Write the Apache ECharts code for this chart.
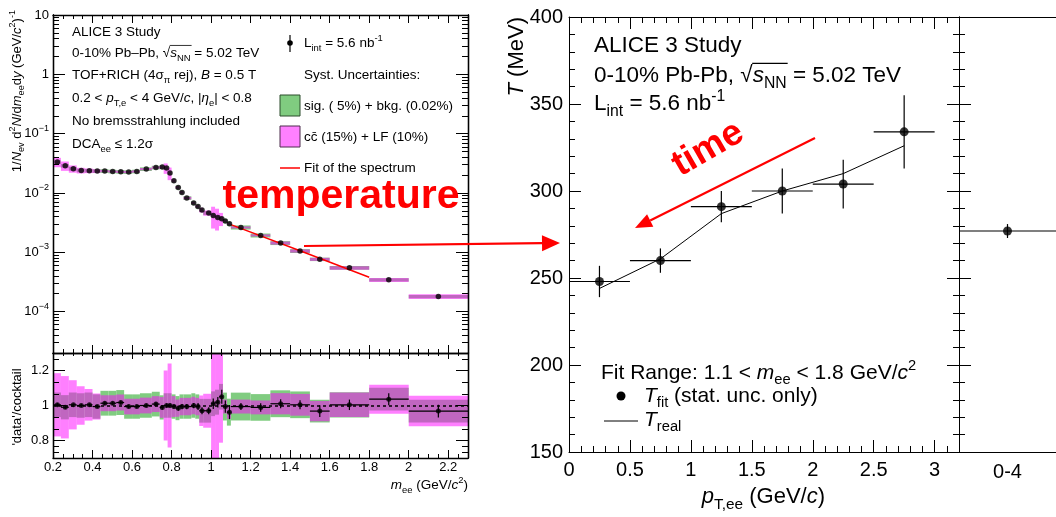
<!DOCTYPE html>
<html>
<head>
<meta charset="utf-8">
<script src="https://cdn.jsdelivr.net/npm/echarts@6/dist/echarts.min.js"></script>
<style>
  html, body { margin: 0; padding: 0; background: #fff; }
  #chart { width: 1056px; height: 517px; }
</style>
</head>
<body>
<div id="chart"></div>
<script>
const FONT = 'Liberation Sans, Arial, Helvetica, sans-serif';

// ---- left: dielectron mass spectrum + ratio ----
const massBinEdges = [0.2, 0.24, 0.28, 0.32, 0.36, 0.40, 0.44, 0.48, 0.52, 0.56, 0.60, 0.64, 0.70, 0.74, 0.76, 0.78,
  0.80, 0.82, 0.84, 0.86, 0.90, 0.92, 0.94, 0.96, 1.00, 1.02, 1.04, 1.06, 1.08, 1.10, 1.2, 1.3, 1.4, 1.5, 1.6, 1.8, 2.0, 2.3];
const massPoints = [0.222, 0.262, 0.303, 0.343, 0.384, 0.424, 0.462, 0.502, 0.543, 0.583, 0.624, 0.672, 0.721, 0.753,
  0.775, 0.792, 0.812, 0.834, 0.853, 0.877, 0.912, 0.934, 0.954, 0.988, 1.011, 1.034, 1.054, 1.072, 1.093,
  1.151, 1.251, 1.352, 1.450, 1.550, 1.700, 1.899, 2.150];
const yieldValues = [0.0331, 0.0287, 0.0255, 0.0239, 0.0237, 0.0234, 0.0234, 0.0230, 0.0227, 0.0225, 0.0230, 0.0252,
  0.0268, 0.0273, 0.0262, 0.0216, 0.0160, 0.0124, 0.0102, 0.0082, 0.00676, 0.00593, 0.00515, 0.00459, 0.00418,
  0.00387, 0.00368, 0.00337, 0.00303, 0.00262, 0.00192, 0.00143, 0.00105, 0.00076, 0.000545, 0.000342, 0.000179];
const ratioValues = [1.004, 0.990, 1.004, 1.000, 1.004, 0.994, 1.013, 1.013, 1.017, 0.994, 0.994, 1.000, 1.008, 0.989,
  1.000, 1.000, 0.994, 0.985, 0.994, 0.994, 1.000, 0.994, 0.970, 0.970, 1.010, 1.019, 1.050, 0.994, 0.962,
  0.994, 0.989, 1.010, 1.004, 0.968, 1.004, 1.036, 0.968];
const ratioStatErr = [0.01, 0.01, 0.008, 0.008, 0.008, 0.008, 0.01, 0.01, 0.01, 0.01, 0.01, 0.01, 0.01, 0.012, 0.012,
  0.012, 0.012, 0.015, 0.015, 0.015, 0.015, 0.02, 0.02, 0.02, 0.03, 0.03, 0.04, 0.035, 0.04,
  0.02, 0.024, 0.026, 0.026, 0.033, 0.03, 0.034, 0.036];
// relative syst. uncertainties: sig.+bkg. (green) and ccbar+LF (magenta)
const systSig = [0.07, 0.07, 0.07, 0.07, 0.07, 0.07, 0.07, 0.07, 0.07, 0.07, 0.07, 0.07, 0.07, 0.07, 0.07, 0.07,
  0.07, 0.07, 0.07, 0.07, 0.07, 0.07, 0.07, 0.07, 0.07, 0.07, 0.07, 0.08, 0.08,
  0.08, 0.077, 0.076, 0.076, 0.067, 0.072, 0.063, 0.067];
const systCharm = [0.18, 0.18, 0.14, 0.11, 0.09, 0.075, 0.045, 0.045, 0.045, 0.045, 0.045, 0.045, 0.045, 0.06, 0.2,
  0.24, 0.06, 0.05, 0.05, 0.05, 0.05, 0.05, 0.09, 0.1, 0.4, 0.4, 0.25, 0.04, 0.04,
  0.04, 0.04, 0.06, 0.062, 0.06, 0.07, 0.08, 0.09];
const fitMass = [1.1, 1.45, 1.8];
const fitYield = [0.00292, 0.00106, 0.000378];
const ratioTicks = [0.8, 1, 1.2];
const ratioMinorTicks = [0.7333, 0.7667, 0.8667, 0.9333, 1.0667, 1.1333, 1.2667];

// ---- right: temperature vs pair pT ----
const ptBinEdges = [0, 0.5, 1, 1.5, 2, 2.5, 3];
const ptCenters = [0.25, 0.75, 1.25, 1.75, 2.25, 2.75];
const tFit = [248, 260, 291, 300, 304, 334];
const tFitErr = [9, 7, 9, 13, 14, 21];
const tReal = [244, 261, 287, 300, 310, 326];
const intCategories = ['0-4'];
const intTFit = [277];
const intTFitErr = [4];

const logMinorTicks = [];
for (let e = -5; e <= 0; e++) {
  for (let k = 2; k <= 9; k++) {
    const v = k * Math.pow(10, e);
    if (v > 2.01e-5 && v < 10) logMinorTicks.push(v);
  }
}

function rich(fs) {
  const base = { fontFamily: FONT, fontSize: fs, color: '#000' };
  return {
    n: Object.assign({}, base, { lineHeight: fs * 1.4, verticalAlign: 'middle' }),
    i: Object.assign({}, base, { fontStyle: 'italic', lineHeight: fs * 1.4, verticalAlign: 'middle' }),
    sb: Object.assign({}, base, { fontSize: fs * 0.7, lineHeight: fs * 0.7, verticalAlign: 'bottom' }),
    sp: Object.assign({}, base, { fontSize: fs * 0.7, lineHeight: fs * 0.7, verticalAlign: 'top' })
  };
}

function txt(x, y, text, fs, opt) {
  opt = opt || {};
  return {
    type: 'text', x: x, y: y, rotation: opt.rot || 0, z: 100,
    style: {
      text: text, rich: rich(fs), fontFamily: FONT, fontSize: fs, fill: '#000',
      align: opt.align || 'left', verticalAlign: 'middle'
    }
  };
}

const measureCtx = document.createElement('canvas').getContext('2d');
function textWidth(s, fs, italic) {
  measureCtx.font = (italic ? 'italic ' : '') + fs + 'px ' + FONT;
  return measureCtx.measureText(s).width;
}
// overline of the square root over s_NN
function sqrtBar(x, y, prefix, fs) {
  const x0 = x + textWidth(prefix, fs);
  const x1 = x0 + textWidth('s', fs, true) + textWidth('NN', fs * 0.7) + 1;
  const yy = y - 0.56 * fs;
  return { type: 'line', z: 100, shape: { x1: x0 - 0.5, y1: yy, x2: x1, y2: yy },
    style: { stroke: '#000', lineWidth: fs > 18 ? 1.2 : 0.8 } };
}

function arrow(x1, y1, x2, y2, len, hw) {
  const L = Math.hypot(x2 - x1, y2 - y1);
  const dx = (x2 - x1) / L, dy = (y2 - y1) / L;
  const bx = x2 - dx * len, by = y2 - dy * len;
  return [
    { type: 'line', z: 100, shape: { x1: x1, y1: y1, x2: bx, y2: by }, style: { stroke: '#ff0000', lineWidth: 2.2 } },
    { type: 'polygon', z: 100, shape: { points: [[x2, y2], [bx - dy * hw, by + dx * hw], [bx + dy * hw, by - dx * hw]] },
      style: { fill: '#ff0000' } }
  ];
}

// box of a syst. uncertainty, clipped to its grid
function renderBox(params, api) {
  const p0 = api.coord([api.value(0), api.value(3)]);
  const p1 = api.coord([api.value(1), api.value(2)]);
  const cs = params.coordSys;
  const shape = echarts.graphic.clipRectByRect(
    { x: p0[0], y: p0[1], width: p1[0] - p0[0], height: p1[1] - p0[1] },
    { x: cs.x, y: cs.y, width: cs.width, height: cs.height });
  return shape && { type: 'rect', shape: shape, style: { fill: api.visual('color') } };
}

// error bar: [x, y, xlo, xhi, yerr]
function renderErr(params, api) {
  const l = api.coord([api.value(2), api.value(1)]);
  const r = api.coord([api.value(3), api.value(1)]);
  const t = api.coord([api.value(0), api.value(1) + api.value(4)]);
  const b = api.coord([api.value(0), api.value(1) - api.value(4)]);
  const st = { stroke: '#000', lineWidth: 1.2 };
  return { type: 'group', children: [
    { type: 'line', shape: { x1: l[0], y1: l[1], x2: r[0], y2: r[1] }, style: st },
    { type: 'line', shape: { x1: t[0], y1: t[1], x2: b[0], y2: b[1] }, style: st }
  ] };
}

// error bar on the category panel: [index, y, yerr]
function renderCatErr(params, api) {
  const c = api.coord([api.value(0), api.value(1)]);
  const w = api.size([1, 0])[0];
  const t = api.coord([api.value(0), api.value(1) + api.value(2)]);
  const b = api.coord([api.value(0), api.value(1) - api.value(2)]);
  const st = { stroke: '#000', lineWidth: 1.2 };
  return { type: 'group', children: [
    { type: 'line', shape: { x1: c[0] - w / 2, y1: c[1], x2: c[0] + w / 2, y2: c[1] }, style: st },
    { type: 'line', shape: { x1: t[0], y1: t[1], x2: b[0], y2: b[1] }, style: st }
  ] };
}

const boxData = (vals, unc) => vals.map((v, i) => [massBinEdges[i], massBinEdges[i + 1], v * (1 - unc[i]), v * (1 + unc[i])]);

const axLine = (w) => ({ show: true, onZero: false, lineStyle: { color: '#000', width: w } });
const ticks = (len, extra) => Object.assign({ show: true, inside: true, length: len, lineStyle: { color: '#000', width: 1 } }, extra || {});
const minor = (n, len) => ({ show: true, splitNumber: n, length: len, lineStyle: { color: '#000', width: 1 } });
const noLabel = { show: false };

const mAxis = (grid, pos, tickLen, label) => ({
  type: 'value', gridIndex: grid, position: pos, min: 0.2, max: 2.3, interval: 0.2,
  axisLine: axLine(1.3), axisTick: ticks(tickLen), minorTick: minor(4, tickLen / 2),
  splitLine: { show: false }, axisLabel: label || noLabel, z: 5
});
const logAxis = (pos, tickOpt, label) => ({
  type: 'log', logBase: 10, gridIndex: 0, position: pos, min: 2e-5, max: 10,
  axisLine: axLine(1.3), axisTick: tickOpt, minorTick: { show: false },
  splitLine: { show: false }, axisLabel: label || noLabel, z: 5
});
const ratioAxis = (pos, tickOpt, label) => ({
  type: 'value', gridIndex: 1, position: pos, min: 0.7, max: 1.3,
  axisLine: axLine(1.3), axisTick: tickOpt, minorTick: { show: false },
  splitLine: { show: false }, axisLabel: label || noLabel, z: 5
});
const ptAxis = (pos, label) => ({
  type: 'value', gridIndex: 2, position: pos, min: 0, max: 3.2, interval: 0.5,
  axisLine: axLine(1), axisTick: ticks(12), minorTick: minor(5, 6),
  splitLine: { show: false }, axisLabel: label || noLabel, z: 5
});
const tAxis = (grid, pos, label) => ({
  type: 'value', gridIndex: grid, position: pos, min: 150, max: 400, interval: 50,
  axisLine: axLine(1), axisTick: ticks(12), minorTick: minor(5, 6),
  splitLine: { show: false }, axisLabel: label || noLabel, z: 5
});
const catAxis = (pos, label) => ({
  type: 'category', gridIndex: 3, position: pos, data: intCategories,
  axisLine: axLine(1), axisTick: { show: false }, splitLine: { show: false }, axisLabel: label || noLabel, z: 5
});

const leftLabel = { show: true, fontFamily: FONT, fontSize: 13, color: '#000', margin: 4 };
const rightLabel = { show: true, fontFamily: FONT, fontSize: 20, color: '#000' };

const option = {
  animation: false,
  backgroundColor: '#fff',
  grid: [
    { left: 53, top: 15, width: 415, height: 338 },
    { left: 53, top: 353, width: 415, height: 105 },
    { left: 569, top: 17, width: 390, height: 435 },
    { left: 959, top: 17, width: 108, height: 435 }
  ],
  xAxis: [
    mAxis(0, 'bottom', 8),
    mAxis(0, 'top', 8),
    mAxis(1, 'bottom', 8, Object.assign({}, leftLabel, {
      margin: 3,
      formatter: v => Math.abs(v * 5 - Math.round(v * 5)) < 1e-6 ? String(+v.toFixed(1)) : ''
    })),
    mAxis(1, 'top', 6),
    ptAxis('bottom', Object.assign({}, rightLabel, {
      margin: 8,
      formatter: v => Math.abs(v * 2 - Math.round(v * 2)) < 1e-6 ? String(+v.toFixed(1)) : ''
    })),
    ptAxis('top'),
    catAxis('bottom', Object.assign({}, rightLabel, { margin: 10 })),
    catAxis('top')
  ],
  yAxis: [
    logAxis('left', ticks(12), Object.assign({}, leftLabel, {
      formatter: v => {
        const lg = Math.log10(v), e = Math.round(lg);
        if (Math.abs(lg - e) > 1e-6) return '';
        if (e === 1) return '{b|10}';
        if (e === 0) return '{b|1}';
        return '{b|10}{s|\u2212' + (-e) + '}';
      },
      rich: {
        b: { fontFamily: FONT, fontSize: 13, lineHeight: 20, verticalAlign: 'middle', color: '#000' },
        s: { fontFamily: FONT, fontSize: 9, lineHeight: 9, verticalAlign: 'top', color: '#000' }
      }
    })),
    logAxis('right', ticks(12)),
    logAxis('left', ticks(6, { customValues: logMinorTicks })),
    logAxis('right', ticks(6, { customValues: logMinorTicks })),
    ratioAxis('left', ticks(12, { customValues: ratioTicks }), Object.assign({}, leftLabel, { customValues: ratioTicks })),
    ratioAxis('left', ticks(6, { customValues: ratioMinorTicks })),
    ratioAxis('right', ticks(12, { customValues: ratioTicks })),
    ratioAxis('right', ticks(6, { customValues: ratioMinorTicks })),
    tAxis(2, 'left', Object.assign({}, rightLabel, { margin: 6 })),
    tAxis(2, 'right'),
    tAxis(3, 'left')
  ],
  series: [
    { type: 'custom', xAxisIndex: 0, yAxisIndex: 0, renderItem: renderBox, itemStyle: { color: '#80cc80' },
      data: boxData(yieldValues, systSig), z: 2 },
    { type: 'custom', xAxisIndex: 0, yAxisIndex: 0, renderItem: renderBox, itemStyle: { color: 'rgba(255,0,255,0.5)' },
      data: boxData(yieldValues, systCharm), z: 2 },
    { type: 'line', xAxisIndex: 0, yAxisIndex: 0, symbol: 'none', lineStyle: { color: '#ff0000', width: 1.5 },
      data: fitMass.map((m, i) => [m, fitYield[i]]), z: 3 },
    { type: 'scatter', xAxisIndex: 0, yAxisIndex: 0, symbolSize: 5.5, itemStyle: { color: '#000' },
      data: massPoints.map((m, i) => [m, yieldValues[i]]), z: 4 },

    { type: 'custom', xAxisIndex: 2, yAxisIndex: 4, renderItem: renderBox, itemStyle: { color: '#80cc80' },
      data: boxData(ratioValues, systSig), z: 2 },
    { type: 'custom', xAxisIndex: 2, yAxisIndex: 4, renderItem: renderBox, itemStyle: { color: 'rgba(255,0,255,0.5)' },
      data: boxData(ratioValues, systCharm), z: 2 },
    { type: 'custom', xAxisIndex: 2, yAxisIndex: 4, renderItem: renderErr, z: 3,
      data: massPoints.map((m, i) => [m, ratioValues[i], massBinEdges[i], massBinEdges[i + 1], ratioStatErr[i]]) },
    { type: 'scatter', xAxisIndex: 2, yAxisIndex: 4, symbolSize: 5, itemStyle: { color: '#000' }, z: 4,
      data: massPoints.map((m, i) => [m, ratioValues[i]]),
      markLine: { silent: true, symbol: 'none', label: { show: false },
        lineStyle: { color: '#000', type: [3, 3], width: 1.5 }, data: [{ yAxis: 1 }] } },

    { type: 'custom', xAxisIndex: 4, yAxisIndex: 8, renderItem: renderErr, z: 3,
      data: ptCenters.map((p, i) => [p, tFit[i], ptBinEdges[i], ptBinEdges[i + 1], tFitErr[i]]) },
    { type: 'line', xAxisIndex: 4, yAxisIndex: 8, symbol: 'none', lineStyle: { color: '#000', width: 1 },
      data: ptCenters.map((p, i) => [p, tReal[i]]), z: 3 },
    { type: 'scatter', xAxisIndex: 4, yAxisIndex: 8, symbolSize: 9, itemStyle: { color: '#000' }, z: 4,
      data: ptCenters.map((p, i) => [p, tFit[i]]) },

    { type: 'custom', xAxisIndex: 6, yAxisIndex: 10, renderItem: renderCatErr, z: 3,
      data: intTFit.map((t, i) => [i, t, intTFitErr[i]]) },
    { type: 'scatter', xAxisIndex: 6, yAxisIndex: 10, symbolSize: 9, itemStyle: { color: '#000' }, z: 4,
      data: intTFit.map((t, i) => [i, t]) }
  ],
  graphic: { elements: [] }
};

const g = option.graphic.elements;
// left panel texts
const fsL = 13.5;
g.push(txt(72, 32, '{n|ALICE 3 Study}', fsL));
g.push(txt(72, 53, '{n|0-10% Pb\u2013Pb, \u221A}{i|s}{sb|NN}{n| = 5.02 TeV}', fsL));
g.push(sqrtBar(72, 53, '0-10% Pb\u2013Pb, \u221A', fsL));
g.push(txt(72, 75, '{n|TOF+RICH (4\u03C3}{sb|\u03C0}{n| rej), }{i|B}{n| = 0.5 T}', fsL));
g.push(txt(72, 98, '{n|0.2 < }{i|p}{sb|T,e}{n| < 4 GeV/}{i|c}{n|, |}{i|\u03B7}{sb|e}{n|| < 0.8}', fsL));
g.push(txt(72, 121, '{n|No bremsstrahlung included}', fsL));
g.push(txt(72, 144, '{n|DCA}{sb|ee}{n| \u2264 1.2\u03C3}', fsL));
// left legend
g.push({ type: 'line', z: 100, shape: { x1: 290, y1: 35, x2: 290, y2: 52 }, style: { stroke: '#000', lineWidth: 1.2 } });
g.push({ type: 'circle', z: 101, shape: { cx: 290, cy: 43, r: 2.8 }, style: { fill: '#000' } });
g.push(txt(304, 43, '{n|L}{sb|int}{n| = 5.6 nb}{sp|-1}', fsL));
g.push(txt(304, 75, '{n|Syst. Uncertainties:}', fsL));
g.push({ type: 'rect', z: 100, shape: { x: 280, y: 95, width: 20, height: 21 }, style: { fill: '#80cc80', stroke: '#2d4d2d', lineWidth: 1 } });
g.push(txt(304, 106, '{n|sig. ( 5%) + bkg. (0.02%)}', fsL));
g.push({ type: 'rect', z: 100, shape: { x: 280, y: 126, width: 20, height: 21 }, style: { fill: '#ff80ff', stroke: '#4d2d4d', lineWidth: 1 } });
g.push(txt(304, 137, '{n|cc\u0304 (15%) + LF (10%)}', fsL));
g.push({ type: 'line', z: 100, shape: { x1: 280, y1: 168, x2: 300, y2: 168 }, style: { stroke: '#ff0000', lineWidth: 1.5 } });
g.push(txt(304, 168, '{n|Fit of the spectrum}', fsL));
// left axis titles
g.push(txt(17, 10, '{n|1/}{i|N}{sb|ev}{n| d}{sp|2}{i|N}{n|/d}{i|m}{sb|ee}{n|d}{i|y}{n| (GeV/}{i|c}{sp|2}{n|)}{sp|-1}', 13,
  { rot: Math.PI / 2, align: 'right' }));
g.push(txt(17, 407, "{n|'data'/cocktail}", 13, { rot: Math.PI / 2, align: 'center' }));
g.push(txt(468, 485, '{i|m}{sb|ee}{n| (GeV/}{i|c}{sp|2}{n|)}', 13.5, { align: 'right' }));

// right panel texts
const fsR = 22.5;
g.push(txt(594, 46, '{n|ALICE 3 Study}', fsR));
g.push(txt(594, 76, '{n|0-10% Pb-Pb, \u221A}{i|s}{sb|NN}{n| = 5.02 TeV}', fsR));
g.push(sqrtBar(594, 76, '0-10% Pb-Pb, \u221A', fsR));
g.push(txt(594, 104, '{n|L}{sb|int}{n| = 5.6 nb}{sp|-1}', fsR));
g.push(txt(601, 373, '{n|Fit Range: 1.1 < }{i|m}{sb|ee}{n| < 1.8 GeV/}{i|c}{sp|2}', 21));
g.push({ type: 'circle', z: 101, shape: { cx: 621, cy: 396, r: 4.5 }, style: { fill: '#000' } });
g.push(txt(644, 396, '{i|T}{sb|fit}{n| (stat. unc. only)}', 21));
g.push({ type: 'line', z: 100, shape: { x1: 604, y1: 421, x2: 638, y2: 421 }, style: { stroke: '#000', lineWidth: 1 } });
g.push(txt(644, 420, '{i|T}{sb|real}', 21));
g.push(txt(825, 497, '{i|p}{sb|T,ee}{n| (GeV/}{i|c}{n|)}', 22, { align: 'right' }));
g.push(txt(517, 17, '{i|T}{n| (MeV)}', 22, { rot: Math.PI / 2, align: 'right' }));

// red annotations
g.push({ type: 'text', x: 341, y: 197, z: 110,
  style: { text: 'temperature', fontFamily: FONT, fontSize: 41, fontWeight: 'bold', fill: '#ff0000', align: 'center', verticalAlign: 'middle' } });
g.push({ type: 'text', x: 708, y: 149, z: 110, rotation: Math.PI / 6,
  style: { text: 'time', fontFamily: FONT, fontSize: 37, fontWeight: 'bold', fill: '#ff0000', align: 'center', verticalAlign: 'middle' } });
arrow(304, 246, 560, 243, 18, 8).forEach(e => g.push(e));
arrow(815, 138, 635, 228, 17, 7).forEach(e => g.push(e));

const chart = echarts.init(document.getElementById('chart'));
chart.setOption(option);
</script>
</body>
</html>
